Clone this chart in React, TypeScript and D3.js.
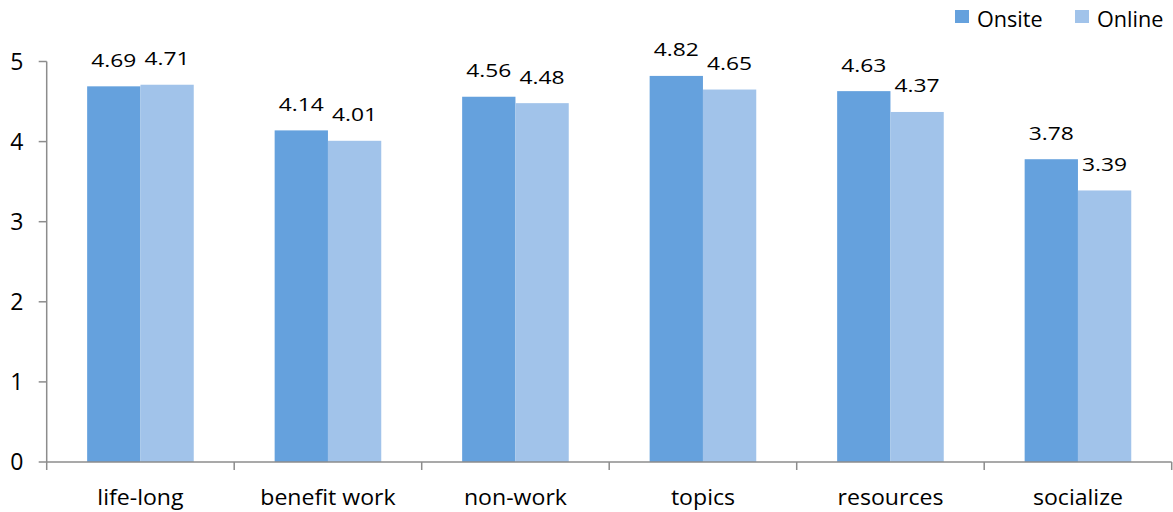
import React from "react";
import * as d3 from "d3";

const categories = ["life-long", "benefit work", "non-work", "topics", "resources", "socialize"];
const onsite = [4.69, 4.14, 4.56, 4.82, 4.63, 3.78];
const online = [4.71, 4.01, 4.48, 4.65, 4.37, 3.39];
const seriesNames = ["Onsite", "Online"];
const yTicks = [0, 1, 2, 3, 4, 5];

const W = 1173;
const H = 512;
const colors = ["#65A1DD", "#A1C3EA"];
const axisColor = "#8c8c8c";
const font = "'Open Sans', 'Liberation Sans', sans-serif";

function SText(props: { x: number; y: number; size: number; sx: number; anchor?: string; children: React.ReactNode }) {
  const { x, y, size, sx, anchor = "middle", children } = props;
  return (
    <text
      transform={`translate(${x},${y}) scale(${sx},1)`}
      fontFamily={font}
      fontSize={size}
      textAnchor={anchor}
      fill="#000"
    >
      {children}
    </text>
  );
}

export default function App() {
  const left = 46.7;
  const right = 1171.7;
  const x = d3.scaleBand<string>().domain(categories).range([left, right]).padding(0);
  const y = d3.scaleLinear().domain([0, 5]).range([462, 61.5]);
  const barW = 53.3;
  const series = [onsite, online];

  return (
    <div style={{ position: "absolute", left: 0, top: 0 }}>
      <svg width={W} height={H} style={{ display: "block", background: "#fff" }}>
        {/* bars */}
        {categories.map((c, i) => {
          const cx = (x(c) ?? 0) + x.bandwidth() / 2;
          return series.map((s, j) => {
            const bx = cx - barW + j * barW;
            return (
              <rect
                key={`${c}-${j}`}
                x={bx}
                y={y(s[i])}
                width={barW}
                height={y(0) - y(s[i])}
                fill={colors[j]}
              />
            );
          });
        })}

        {/* value labels */}
        {categories.map((c, i) => {
          const cx = (x(c) ?? 0) + x.bandwidth() / 2;
          return series.map((s, j) => (
            <SText key={`l-${c}-${j}`} x={cx - barW / 2 + j * barW} y={y(s[i]) - 19.5} size={19} sx={1.2}>
              {s[i].toFixed(2)}
            </SText>
          ));
        })}

        {/* y axis */}
        <line x1={left} x2={left} y1={y(5)} y2={y(0)} stroke={axisColor} strokeWidth={1.5} />
        {yTicks.map((t) => (
          <g key={`yt-${t}`}>
            <line x1={left - 8} x2={left} y1={y(t)} y2={y(t)} stroke={axisColor} strokeWidth={1.5} />
            <SText x={23.5} y={y(t) + 8.2} size={23} sx={1.0} anchor="end">
              {t}
            </SText>
          </g>
        ))}

        {/* x axis */}
        <line x1={left} x2={right} y1={y(0)} y2={y(0)} stroke={axisColor} strokeWidth={1.5} />
        {[...categories.map((c) => x(c) ?? 0), right].map((tx, k) => (
          <line key={`xt-${k}`} x1={tx} x2={tx} y1={y(0)} y2={y(0) + 8} stroke={axisColor} strokeWidth={1.5} />
        ))}
        {categories.map((c) => (
          <SText key={`xl-${c}`} x={(x(c) ?? 0) + x.bandwidth() / 2} y={505} size={22} sx={1.05}>
            {c}
          </SText>
        ))}

        {/* legend */}
        {seriesNames.map((n, j) => {
          const lx = [955, 1075][j];
          return (
            <g key={`lg-${n}`}>
              <rect x={lx} y={10} width={14} height={13} fill={colors[j]} />
              <SText x={lx + 22} y={27} size={21} sx={1.03} anchor="start">
                {n}
              </SText>
            </g>
          );
        })}
      </svg>
    </div>
  );
}
